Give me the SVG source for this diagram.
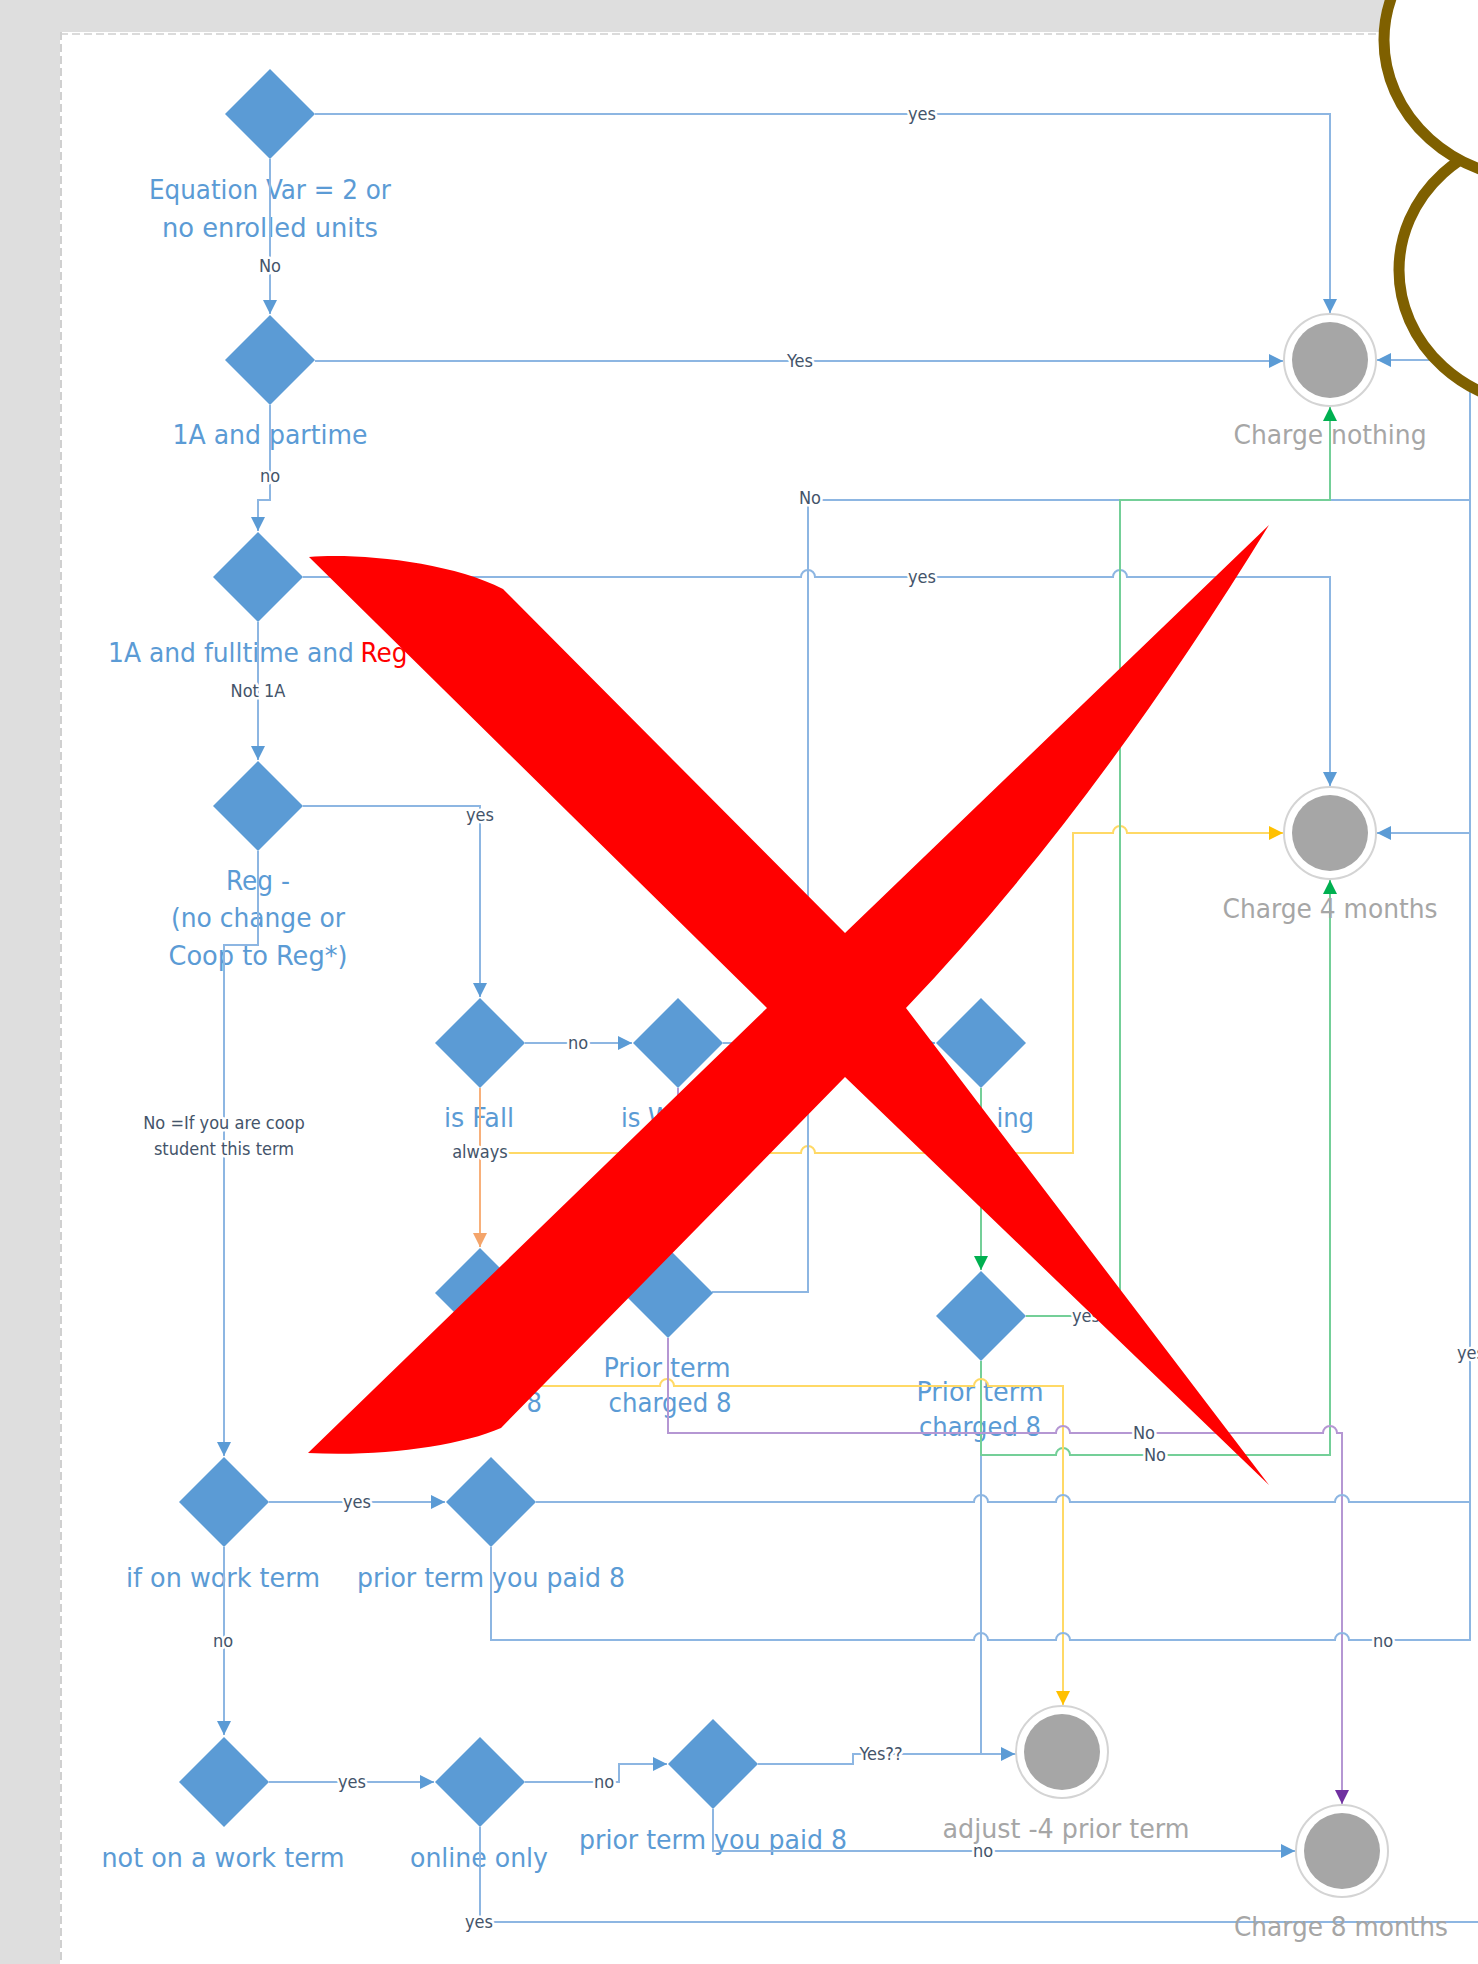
<svg xmlns="http://www.w3.org/2000/svg" width="1478" height="1964" viewBox="0 0 1478 1964">
<style>
.big{font-family:"Liberation Sans Narrow","DejaVu Sans Condensed","Liberation Sans",sans-serif;font-size:27px;fill:#5B9BD5;text-anchor:middle}
.gray{font-family:"Liberation Sans Narrow","DejaVu Sans Condensed","Liberation Sans",sans-serif;font-size:27px;fill:#A6A6A6;text-anchor:middle}
.lbl{font-family:"Liberation Sans Narrow","DejaVu Sans Condensed","Liberation Sans",sans-serif;font-size:18px;fill:#44546A;text-anchor:middle;paint-order:stroke;stroke:#fff;stroke-width:5px;stroke-linejoin:round}
.dia{fill:#5B9BD5}
.ring{fill:#fff;stroke:#D4D4D4;stroke-width:2}
.core{fill:#A6A6A6}
.c{fill:none;stroke-width:2}
.b{stroke:#8DB6E2;marker-end:url(#ab)}
.bn{stroke:#8DB6E2}
.g{stroke:#74CF98;marker-end:url(#ag)}
.y{stroke:#FFD966;marker-end:url(#ay)}
.o{stroke:#F8B07A;marker-end:url(#ao)}
.p{stroke:#B597D3;marker-end:url(#ap)}
</style>
<defs>
<path id="dm" d="M0,-45 L45,0 L0,45 L-45,0 Z"/>
<marker id="ab" markerUnits="userSpaceOnUse" markerWidth="14" markerHeight="14" refX="14" refY="7" orient="auto"><path d="M0,0 L14,7 L0,14 Z" fill="#5B9BD5"/></marker>
<marker id="ag" markerUnits="userSpaceOnUse" markerWidth="14" markerHeight="14" refX="14" refY="7" orient="auto"><path d="M0,0 L14,7 L0,14 Z" fill="#00B050"/></marker>
<marker id="ay" markerUnits="userSpaceOnUse" markerWidth="14" markerHeight="14" refX="14" refY="7" orient="auto"><path d="M0,0 L14,7 L0,14 Z" fill="#FFC000"/></marker>
<marker id="ao" markerUnits="userSpaceOnUse" markerWidth="14" markerHeight="14" refX="14" refY="7" orient="auto"><path d="M0,0 L14,7 L0,14 Z" fill="#F4A46A"/></marker>
<marker id="ap" markerUnits="userSpaceOnUse" markerWidth="14" markerHeight="14" refX="14" refY="7" orient="auto"><path d="M0,0 L14,7 L0,14 Z" fill="#7030A0"/></marker>
</defs>
<rect width="1478" height="1964" fill="#DEDEDE"/>
<rect x="60" y="32" width="1418" height="1932" fill="#fff"/>
<line x1="60" y1="34" x2="1478" y2="34" stroke="#D0D0D0" stroke-width="1.5" stroke-dasharray="8 4"/>
<line x1="61" y1="32" x2="61" y2="1964" stroke="#D0D0D0" stroke-width="2" stroke-dasharray="8 4"/>

<g id="node-labels">
<text class="big" x="270" y="199" textLength="242" lengthAdjust="spacingAndGlyphs">Equation Var = 2 or</text>
<text class="big" x="270" y="237" textLength="216" lengthAdjust="spacingAndGlyphs">no enrolled units</text>
<text class="big" x="270" y="444" textLength="195" lengthAdjust="spacingAndGlyphs">1A and partime</text>
<text class="big" x="231" y="662" textLength="246" lengthAdjust="spacingAndGlyphs">1A and fulltime and</text>
<text class="big" x="384" y="662" textLength="47" lengthAdjust="spacingAndGlyphs" style="fill:#FF0000">Reg</text>
<text class="big" x="258" y="890" textLength="64" lengthAdjust="spacingAndGlyphs">Reg -</text>
<text class="big" x="258" y="927" textLength="174" lengthAdjust="spacingAndGlyphs">(no change or</text>
<text class="big" x="258" y="965" textLength="179" lengthAdjust="spacingAndGlyphs">Coop to Reg*)</text>
<text class="big" x="479" y="1127" textLength="70" lengthAdjust="spacingAndGlyphs">is Fall</text>
<text class="big" x="621" y="1127" style="text-anchor:start">is W</text>
<text class="big" x="1034" y="1127" style="text-anchor:end">ing</text>
<text class="big" x="542" y="1412" style="text-anchor:end">8</text>
<text class="big" x="667" y="1377" textLength="127" lengthAdjust="spacingAndGlyphs">Prior term</text>
<text class="big" x="670" y="1412" textLength="123" lengthAdjust="spacingAndGlyphs">charged 8</text>
<text class="big" x="980" y="1401" textLength="127" lengthAdjust="spacingAndGlyphs">Prior term</text>
<text class="big" x="980" y="1436" textLength="122" lengthAdjust="spacingAndGlyphs">charged 8</text>
<text class="big" x="223" y="1587" textLength="194" lengthAdjust="spacingAndGlyphs">if on work term</text>
<text class="big" x="491" y="1587" textLength="268" lengthAdjust="spacingAndGlyphs">prior term you paid 8</text>
<text class="big" x="223" y="1867" textLength="243" lengthAdjust="spacingAndGlyphs">not on a work term</text>
<text class="big" x="479" y="1867" textLength="138" lengthAdjust="spacingAndGlyphs">online only</text>
<text class="big" x="713" y="1849" textLength="268" lengthAdjust="spacingAndGlyphs">prior term you paid 8</text>
</g>

<g id="connectors">
<path class="c b" d="M315,114 H1330 V313"/>
<path class="c b" d="M270,159 V314"/>
<path class="c b" d="M315,361 H1283"/>
<path class="c b" d="M270,405 V500 H258 V531"/>
<path class="c b" d="M303,577 H801 a7,7 0 0 1 14,0 H1113 a7,7 0 0 1 14,0 H1330 V786"/>
<path class="c b" d="M258,622 V760"/>
<path class="c b" d="M303,806 H480 V997"/>
<path class="c b" d="M258,851 V945 H224 V1456"/>
<path class="c b" d="M525,1043 H632"/>
<path class="c b" d="M723,1043 H935"/>
<path class="c p" d="M678,1088 V1165 H668 V1247"/>
<path class="c y" d="M480,1088 V1153 H801 a7,7 0 0 1 14,0 H1073 V833 H1113 a7,7 0 0 1 14,0 H1283"/>
<path class="c o" d="M480,1088 V1247"/>
<path class="c g" d="M981,1088 V1270"/>
<path class="c b" d="M712,1292 H808 V500 H1470 V360 H1377"/>
<path class="c bn" d="M981,1361 V1754 H1016"/>
<path class="c g" d="M1026,1316 H1120 V500 H1330 V407"/>
<path class="c g" d="M981,1361 V1455 H1056 a7,7 0 0 1 14,0 H1330 V880"/>
<path class="c y" d="M480,1338 V1386 H660 a7,7 0 0 1 14,0 H974 a7,7 0 0 1 14,0 H1063 V1705"/>
<path class="c p" d="M668,1338 V1433 H1056 a7,7 0 0 1 14,0 H1323 a7,7 0 0 1 14,0 H1342 V1804"/>
<path class="c b" d="M269,1502 H445"/>
<path class="c b" d="M224,1547 V1735"/>
<path class="c bn" d="M536,1502 H974 a7,7 0 0 1 14,0 H1056 a7,7 0 0 1 14,0 H1335 a7,7 0 0 1 14,0 H1470 V360"/>
<path class="c b" d="M491,1547 V1640 H974 a7,7 0 0 1 14,0 H1056 a7,7 0 0 1 14,0 H1335 a7,7 0 0 1 14,0 H1470 V833 H1377"/>
<path class="c b" d="M269,1782 H434"/>
<path class="c b" d="M525,1782 H619 V1764 H667"/>
<path class="c bn" d="M480,1827 V1922 H1480"/>
<path class="c b" d="M758,1764 H853 V1754 H1015"/>
<path class="c b" d="M713,1809 V1851 H1295"/>
</g>

<g id="d-equation"><use href="#dm" x="270" y="114" class="dia"/></g>
<g id="d-1a-partime"><use href="#dm" x="270" y="360" class="dia"/></g>
<g id="d-1a-fulltime"><use href="#dm" x="258" y="577" class="dia"/></g>
<g id="d-reg"><use href="#dm" x="258" y="806" class="dia"/></g>
<g id="d-is-fall"><use href="#dm" x="480" y="1043" class="dia"/></g>
<g id="d-is-winter"><use href="#dm" x="678" y="1043" class="dia"/></g>
<g id="d-is-spring"><use href="#dm" x="981" y="1043" class="dia"/></g>
<g id="d-fall-prior"><use href="#dm" x="480" y="1293" class="dia"/></g>
<g id="d-winter-prior"><use href="#dm" x="668" y="1293" class="dia"/></g>
<g id="d-spring-prior"><use href="#dm" x="981" y="1316" class="dia"/></g>
<g id="d-work-term"><use href="#dm" x="224" y="1502" class="dia"/></g>
<g id="d-work-prior"><use href="#dm" x="491" y="1502" class="dia"/></g>
<g id="d-not-work"><use href="#dm" x="224" y="1782" class="dia"/></g>
<g id="d-online"><use href="#dm" x="480" y="1782" class="dia"/></g>
<g id="d-online-prior"><use href="#dm" x="713" y="1764" class="dia"/></g>

<g id="n-charge-nothing"><circle class="ring" cx="1330" cy="360" r="46"/><circle class="core" cx="1330" cy="360" r="38"/><text class="gray" x="1330" y="444" textLength="193" lengthAdjust="spacingAndGlyphs">Charge nothing</text></g>
<g id="n-charge-4"><circle class="ring" cx="1330" cy="833" r="46"/><circle class="core" cx="1330" cy="833" r="38"/><text class="gray" x="1330" y="918" textLength="215" lengthAdjust="spacingAndGlyphs">Charge 4 months</text></g>
<g id="n-adjust"><circle class="ring" cx="1062" cy="1752" r="46"/><circle class="core" cx="1062" cy="1752" r="38"/><text class="gray" x="1066" y="1838" textLength="247" lengthAdjust="spacingAndGlyphs">adjust -4 prior term</text></g>
<g id="n-charge-8"><circle class="ring" cx="1342" cy="1851" r="46"/><circle class="core" cx="1342" cy="1851" r="38"/><text class="gray" x="1341" y="1936" textLength="214" lengthAdjust="spacingAndGlyphs">Charge 8 months</text></g>

<g id="connector-labels">
<text class="lbl" x="922" y="120">yes</text>
<text class="lbl" x="270" y="272">No</text>
<text class="lbl" x="800" y="367">Yes</text>
<text class="lbl" x="270" y="482">no</text>
<text class="lbl" x="922" y="583">yes</text>
<text class="lbl" x="258" y="697">Not 1A</text>
<text class="lbl" x="480" y="821">yes</text>
<text class="lbl" x="224" y="1129">No  =If you are coop</text>
<text class="lbl" x="224" y="1155">student this term</text>
<text class="lbl" x="578" y="1049">no</text>
<text class="lbl" x="480" y="1158">always</text>
<text class="lbl" x="810" y="504">No</text>
<text class="lbl" x="1072" y="1322" style="text-anchor:start">yes</text>
<text class="lbl" x="1144" y="1439">No</text>
<text class="lbl" x="1155" y="1461">No</text>
<text class="lbl" x="1457" y="1359" style="text-anchor:start">yes</text>
<text class="lbl" x="357" y="1508">yes</text>
<text class="lbl" x="223" y="1647">no</text>
<text class="lbl" x="1383" y="1647">no</text>
<text class="lbl" x="352" y="1788">yes</text>
<text class="lbl" x="604" y="1788">no</text>
<text class="lbl" x="881" y="1760">Yes??</text>
<text class="lbl" x="983" y="1857">no</text>
<text class="lbl" x="479" y="1928">yes</text>
</g>

<g id="brown-ellipses" fill="#fff" stroke="#7F6000" stroke-width="11">
<ellipse cx="1550" cy="270" rx="151" ry="137"/>
<ellipse cx="1540" cy="40" rx="156" ry="140"/>
</g>

<g id="red-x">
<path fill="#FF0000" d="M309,557 C360,553 450,562 503,589 L845,933 L1269,525 Q1092,813 906,1008 L1269,1485 L845,1077 L501,1428 C460,1446 380,1457 308,1453 L767,1008 Z"/>
</g>
</svg>
